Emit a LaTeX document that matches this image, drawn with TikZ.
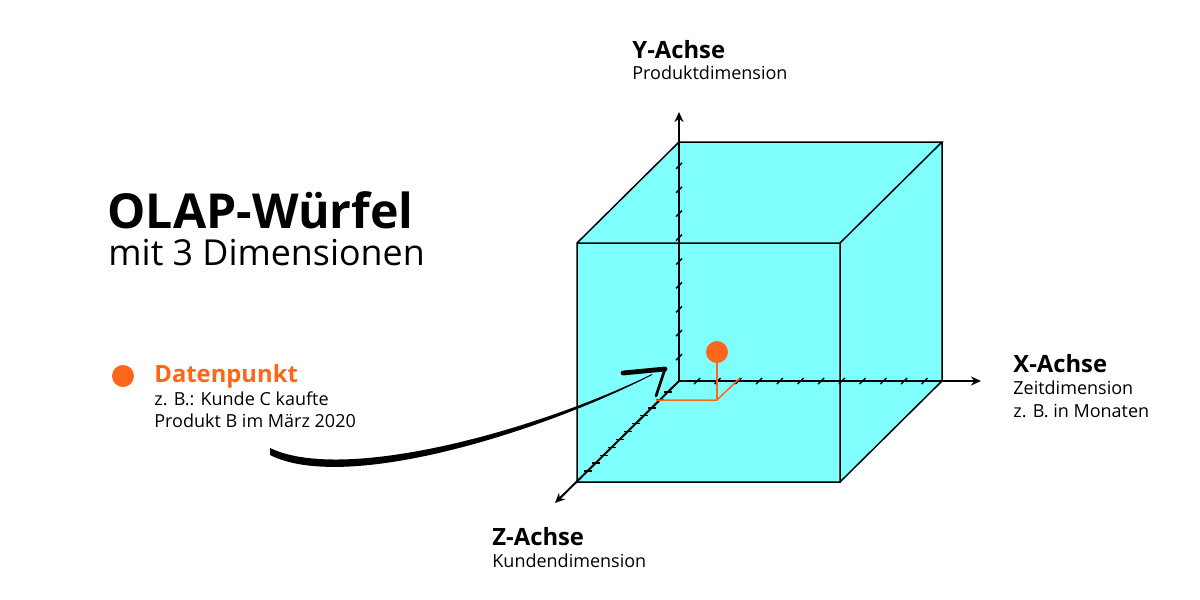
\documentclass[tikz,border=0pt]{standalone}
\usepackage{fontspec}
\setmainfont{Open Sans}
\usetikzlibrary{arrows.meta, calc}
\usepackage{xcolor}
\definecolor{cubefill}{HTML}{80FFFF}
\definecolor{pointorange}{HTML}{FF6619}

\tikzset{
  title/.style={anchor=base west, inner sep=0pt, font=\bfseries\fontsize{11.9}{13}\selectfont},
  subtitle/.style={anchor=base west, inner sep=0pt, font=\fontsize{9}{10}\selectfont},
  axis/.style={line width=1pt, -{Stealth[length=5pt,width=4.5pt]}},
  tick/.style={line width=0.7pt}
}

\begin{document}
\begin{tikzpicture}[x=0.5pt, y=-0.5pt]
		\useasboundingbox (0,0) rectangle (1200,600);

		% cube corners: front face and back face
		\coordinate (ftl) at (577,243);
		\coordinate (ftr) at (840,243);
		\coordinate (fbr) at (840,482);
		\coordinate (fbl) at (577,482);
		\coordinate (btl) at (679,142);
		\coordinate (btr) at (942,142);
		\coordinate (bbr) at (942,381);
		\coordinate (origin) at (679,381);

		% axis tips
		\coordinate (ytip) at (679,112);
		\coordinate (xtip) at (981,381);
		\coordinate (ztip) at (555,503);

		% cube body
		\fill[cubefill] (ftl) -- (btl) -- (btr) -- (bbr) -- (fbr) -- (fbl) -- cycle;
		\draw[line width=0.75pt, line join=miter]
		(fbl) rectangle (ftr)
		(ftl) -- (btl) -- (btr) -- (ftr)
		(btr) -- (bbr) -- (fbr);

		% axes out of the hidden back corner
		\draw[axis] (origin) -- (ytip);
		\draw[axis] (origin) -- (xtip);
		\draw[axis] (origin) -- (ztip);

		% tick marks
		\foreach \k in {1,...,9} {
				\draw[tick] ([shift={(-3,3)}]679,381-\k*23.9) -- ++(6,-6);
			}
		\foreach \k in {0,...,11} {
				\draw[tick] ([shift={(-3,3)}]697+\k*20.7,381) -- ++(6,-6);
			}
		\foreach \k in {0,...,10} {
				\draw[tick] ($(origin)!{(11+7.9*\k)/101}!(fbl) + (-4,0)$) -- ++(8,0);
			}

		% data point with its projection lines
		\coordinate (foot) at (717,400);
		\coordinate (zfoot) at (656,400);
		\coordinate (xfoot) at (740,378);
		\draw[pointorange, line width=0.75pt] (zfoot) -- (foot) -- (xfoot);
		\draw[pointorange, line width=0.75pt] (foot) -- (717,352);
		\fill[pointorange] (717,352) circle (11);

		% title
		\node[anchor=base west, inner sep=0pt, font=\bfseries\fontsize{24.1}{28}\selectfont] (cubetitle) at (107,228) {OLAP-Würfel};
		\node[anchor=base west, inner sep=0pt, font=\fontsize{17.9}{20}\selectfont] (cubesub) at (108,265) {mit 3 Dimensionen};

		% legend
		\fill[pointorange] (123,376) circle (11);
		\node[title, text=pointorange] (legendtitle) at (154,382) {Datenpunkt};
		\node[subtitle] (legendline1) at (154,405) {z. B.: Kunde C kaufte};
		\node[subtitle] (legendline2) at (154,427) {Produkt B im März 2020};

		% axis labels
		\node[title] (ytitle) at (632,58) {Y-Achse};
		\node[subtitle] (ysub) at (632,79) {Produktdimension};
		\node[title] (xtitle) at (1013,372) {X-Achse};
		\node[subtitle] (xsub) at (1013,394) {Zeitdimension};
		\node[subtitle] (xsub2) at (1013,417) {z. B. in Monaten};
		\node[title] (ztitle) at (492,545) {Z-Achse};
		\node[subtitle] (zsub) at (492,567) {Kundendimension};

		% brushed pointer from the legend to the cube
		\coordinate (brushstart) at (270,451);
		\coordinate (brushend) at (652,374);
		\fill (270,448) .. controls (345,484) and (540,429) .. (brushend)
		-- (652,375) .. controls (540,433) and (345,493) .. (270,455) -- cycle;
		\draw[line width=2.4pt, line cap=round, line join=miter] (623,373) -- (665,369);
		\draw[line width=1.4pt, line cap=round] (665,369) -- (656,396);
	\end{tikzpicture}
\end{document}
